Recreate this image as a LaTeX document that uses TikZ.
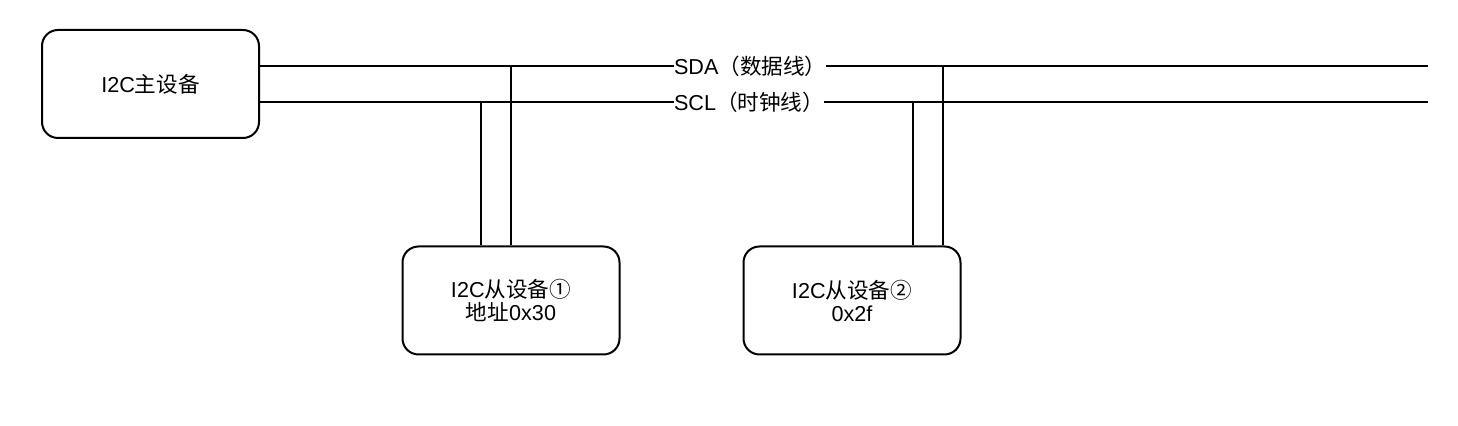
\documentclass[tikz,border=0pt]{standalone}
\usepackage{fontspec}
\setmainfont{Liberation Sans}
\newfontfamily\cjk{Noto Sans CJK SC}
\newcommand{\zh}[1]{{\cjk #1}}

\begin{document}
\begin{tikzpicture}[
		x=0.5pt, y=-0.5pt,
		line width=1pt,
		every node/.style={font=\fontsize{10.8}{12}\selectfont},
		dev/.style={draw, rounded corners=8pt, minimum width=108.5pt, minimum height=54pt, align=center},
		buslabel/.style={fill=white, inner sep=0pt, anchor=west}
		]
		\useasboundingbox (0,0) rectangle (1458,426);
		% devices
		\node[dev] (master) at (150.5,84) {I2C\zh{主设备}};
		\node[dev] (slaveA) at (511,300.5) {I2C\zh{从设备①}\\[-0.5pt]\zh{地址}0x30};
		\node[dev] (slaveB) at (852,300.5) {I2C\zh{从设备②}\\[-0.5pt]0x2f};
		% bus ends and taps
		\coordinate (sdaEnd) at (1428,66);
		\coordinate (sclEnd) at (1428,102);
		\coordinate (sdaA) at (511,66);
		\coordinate (sclA) at (481,102);
		\coordinate (sdaB) at (943,66);
		\coordinate (sclB) at (913,102);
		% bus lines
		\draw (master.east |- sdaEnd) -- (sdaEnd);
		\draw (master.east |- sclEnd) -- (sclEnd);
		\node[buslabel] (sdaLbl) at (673,66) {SDA\zh{（数据线）}};
		\node[buslabel] (sclLbl) at (673,102) {SCL\zh{（时钟线）}};
		% slave taps
		\draw (sdaA) -- (sdaA |- slaveA.north);
		\draw (sclA) -- (sclA |- slaveA.north);
		\draw (sdaB) -- (sdaB |- slaveB.north);
		\draw (sclB) -- (sclB |- slaveB.north);
	\end{tikzpicture}
\end{document}
